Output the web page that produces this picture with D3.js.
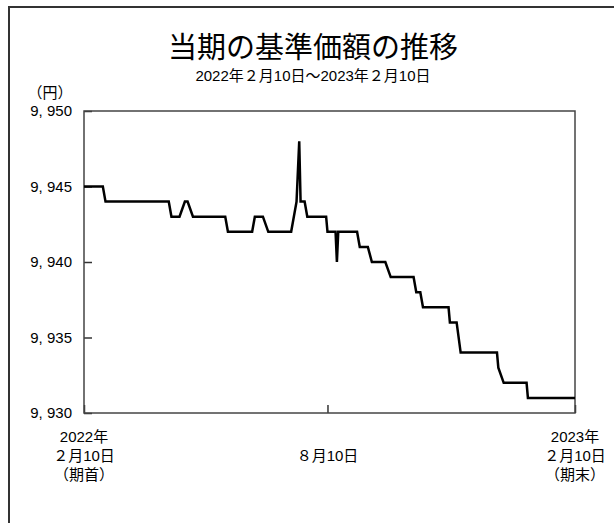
<!DOCTYPE html>
<html>
<head>
<meta charset="utf-8">
<script src="https://cdn.jsdelivr.net/npm/d3@7"></script>
<style>
  html, body { margin: 0; padding: 0; background: #fff; }
  svg text { font-family: 'Liberation Sans', 'Noto Sans CJK JP', sans-serif; fill: #000; }
</style>
</head>
<body>
<div class="chart"></div>
<script>
// Data (date, 基準価額)
const dates = [
    '2022-02-10', '2022-02-24', '2022-02-26', '2022-04-14', '2022-04-16',
    '2022-04-22', '2022-04-26', '2022-04-28', '2022-05-02', '2022-05-26',
    '2022-05-28', '2022-06-15', '2022-06-17', '2022-06-23', '2022-06-27',
    '2022-07-14', '2022-07-18', '2022-07-20', '2022-07-21', '2022-07-24',
    '2022-07-26', '2022-08-09', '2022-08-10', '2022-08-16', '2022-08-17',
    '2022-08-18', '2022-09-01', '2022-09-03', '2022-09-09', '2022-09-12',
    '2022-09-22', '2022-09-26', '2022-10-13', '2022-10-15', '2022-10-18',
    '2022-10-20', '2022-11-08', '2022-11-09', '2022-11-14', '2022-11-17',
    '2022-12-14', '2022-12-15', '2022-12-19', '2023-01-05', '2023-01-06',
    '2023-02-10'
];
const values = [
    9945, 9945, 9944, 9944, 9943,
    9943, 9944, 9944, 9943, 9943,
    9942, 9942, 9943, 9943, 9942,
    9942, 9944, 9948, 9944, 9944,
    9943, 9943, 9942, 9942, 9940,
    9942, 9942, 9941, 9941, 9940,
    9940, 9939, 9939, 9938, 9938,
    9937, 9937, 9936, 9936, 9934,
    9934, 9933, 9932, 9932, 9931,
    9931
];

// Axis ticks
const yTicks = [9930, 9935, 9940, 9945, 9950];
const xTickDates = ['2022-02-10', '2022-08-10', '2023-02-10'];
const xTickLabels = [
    ['2022年', '２月10日', '（期首）'],
    ['', '８月10日', ''],
    ['2023年', '２月10日', '（期末）']
];

const title = '当期の基準価額の推移';
const subtitle = '2022年２月10日～2023年２月10日';
const unitLabel = '（円）';

const parseDate = d3.utcParse('%Y-%m-%d');
const series = dates.map((d, i) => ({ date: parseDate(d), value: values[i] }));

// Dimensions
const W = 614, H = 523;
const plot = { left: 84, top: 111, right: 575, bottom: 413 };

const svg = d3.select('.chart')
    .append('svg')
    .attr('width', W)
    .attr('height', H);

// Outer frame (runs off the right and bottom edges)
svg.append('rect')
    .attr('x', 9).attr('y', 7)
    .attr('width', 800).attr('height', 800)
    .attr('fill', 'none')
    .attr('stroke', '#333')
    .attr('stroke-width', 2);

// Titles
svg.append('text')
    .attr('x', 313).attr('y', 58)
    .attr('text-anchor', 'middle')
    .style('font-family', "'Noto Sans CJK JP', sans-serif")
    .style('font-size', '29px')
    .text(title);

svg.append('text')
    .attr('x', 313).attr('y', 81)
    .attr('text-anchor', 'middle')
    .style('font-size', '15px')
    .text(subtitle);

svg.append('text')
    .attr('x', 50).attr('y', 98)
    .attr('text-anchor', 'middle')
    .style('font-size', '15px')
    .text(unitLabel);

// Scales
const x = d3.scaleUtc()
    .domain([parseDate(xTickDates[0]), parseDate(xTickDates[2])])
    .range([plot.left, plot.right]);

const y = d3.scaleLinear()
    .domain([yTicks[0], yTicks[yTicks.length - 1]])
    .range([plot.bottom, plot.top]);

// Y axis: labels left, ticks pointing inside
const yAxis = svg.append('g')
    .attr('transform', `translate(${plot.left},0)`)
    .call(d3.axisRight(y).tickValues(yTicks).tickSize(8).tickFormat(''));
yAxis.select('.domain').remove();
yAxis.selectAll('line').attr('stroke', '#333').attr('stroke-width', 1.5);

svg.append('g')
    .selectAll('text')
    .data(yTicks)
    .enter()
    .append('text')
    .attr('x', plot.left - 12)
    .attr('y', d => y(d))
    .attr('dy', '0.36em')
    .attr('text-anchor', 'end')
    .style('font-size', '15px')
    .text(d => d3.format(',')(d).replace(',', ', '));

// X axis: ticks pointing up
const xAxis = svg.append('g')
    .attr('transform', `translate(0,${plot.bottom})`)
    .call(d3.axisTop(x).tickValues(xTickDates.map(parseDate)).tickSize(8).tickFormat(''));
xAxis.select('.domain').remove();
xAxis.selectAll('line').attr('stroke', '#333').attr('stroke-width', 1.5);

const xLabels = svg.append('g')
    .selectAll('g')
    .data(xTickDates)
    .enter()
    .append('g')
    .attr('transform', (d, i) => `translate(${x(parseDate(d))},0)`);

xLabels.each(function (d, i) {
    const g = d3.select(this);
    xTickLabels[i].forEach((line, j) => {
        if (!line) return;
        g.append('text')
            .attr('x', 0)
            .attr('y', 442 + j * 19)
            .attr('text-anchor', 'middle')
            .style('font-size', '15px')
            .text(line);
    });
});

// Plot border
svg.append('rect')
    .attr('x', plot.left).attr('y', plot.top)
    .attr('width', plot.right - plot.left)
    .attr('height', plot.bottom - plot.top)
    .attr('fill', 'none')
    .attr('stroke', '#444')
    .attr('stroke-width', 1.5);

// Line
svg.append('path')
    .datum(series)
    .attr('fill', 'none')
    .attr('stroke', '#000')
    .attr('stroke-width', 2.5)
    .attr('stroke-linejoin', 'miter')
    .attr('d', d3.line()
        .x(d => x(d.date))
        .y(d => y(d.value))
    );
</script>
</body>
</html>
